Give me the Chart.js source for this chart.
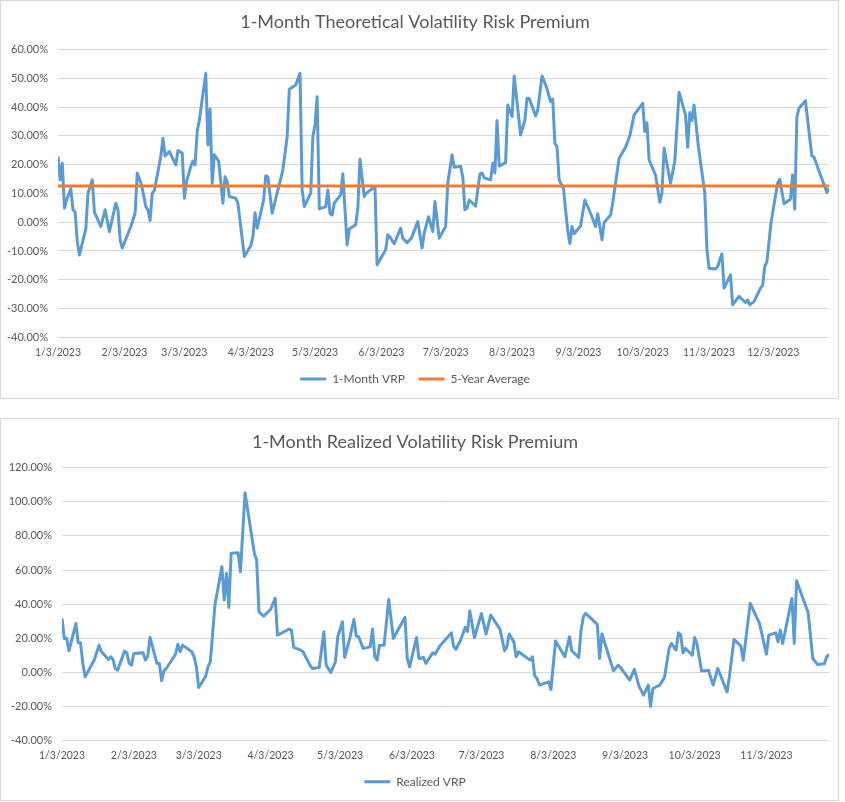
<!DOCTYPE html>
<html>
<head>
<meta charset="utf-8">
<script src="https://cdn.jsdelivr.net/npm/chart.js@4.4.1/dist/chart.umd.min.js"></script>
<style>
body { margin: 0; background: #fff; }
.box { position: absolute; left: 0; width: 839px; border: 1px solid #d9d9d9; box-sizing: border-box; background: #fff; }
#topBox { top: 0; height: 399px; }
#bottomBox { top: 418px; height: 383px; }
</style>
</head>
<body>
<div class="box" id="topBox"><canvas id="vrpChart"></canvas></div>
<div class="box" id="bottomBox"><canvas id="realizedChart"></canvas></div>
<script>
// x values are day of year 2023 (1/3/2023 = 3), y values in %
var vrpDay = [3,4,5,6,7,9,10,11,12,13,16,17,19,20,23,25,27,30,31,32,33,37,39,40,42,44,45,46,47,48,
  51,52,53,55,58,59,61,62,63,65,66,67,68,69,72,73,74,75,76,78,80,81,82,83,86,87,90,93,94,95,96,99,100,101,103,
  108,110,111,114,116,117,118,121,122,123,124,125,128,129,130,131,132,135,136,138,139,142,143,144,146,147,
  151,152,156,157,158,160,163,164,166,168,171,173,174,176,178,179,181,184,185,187,188,191,192,193,194,195,198,
  200,201,202,205,206,207,208,209,212,213,215,216,219,221,222,223,226,227,229,231,233,234,235,236,237,239,
  241,242,243,244,247,249,252,254,255,257,258,261,262,265,268,270,272,276,277,278,279,282,284,285,286,289,
  291,293,296,297,298,299,300,302,305,306,307,310,311,313,314,317,318,321,324,325,326,328,331,332,333,334,
  336,339,340,342,345,346,347,348,349,352,355,356,362,363];
var vrpValue = [22.8,14.7,20.5,4.9,7.7,11.6,4.3,3.5,-6.7,-11.4,-2.3,10.1,14.7,3.5,-1.5,4.3,-3.3,6.6,4.3,-6.1,-9.0,-1.5,3.1,17.0,13.0,5.4,4.3,0.6,10.1,11.0,
  22.8,29.2,23.0,24.5,19.9,24.9,24.0,8.3,14.1,19.3,21.2,19.9,31.5,35.5,51.7,26.8,39.2,13.5,23.4,21.2,6.6,15.8,14.0,8.9,8.3,6.6,-11.9,-8.2,-5.0,3.3,-2.1,7.7,16.1,15.8,3.1,
  18.2,29.7,46.2,47.7,51.7,11.2,5.4,10.1,29.7,33.8,43.6,4.6,5.4,11.2,3.1,2.5,6.6,9.5,16.8,-7.9,-2.4,-0.9,4.9,21.9,8.9,10.1,
  12.4,-14.8,-9.6,-4.4,-5.2,-7.5,-2.1,-5.6,-7.1,-5.6,0.2,-9.0,-3.8,1.9,-3.3,7.2,-5.6,-1.5,13.5,23.4,19.1,19.4,15.8,4.3,4.9,7.7,5.6,
  16.8,17.1,15.4,14.7,20.5,17.1,35.3,19.5,20.7,40.7,36.7,50.8,30.3,35.5,43.1,43.1,36.9,39.0,50.8,47.1,41.9,42.8,27.4,26.2,14.7,11.8,
  -3.0,-7.4,-1.5,-4.0,-1.3,7.7,2.5,-1.5,2.9,-6.1,-0.1,2.5,6.6,22.2,26.0,30.0,37.3,41.3,31.5,34.5,21.6,16.4,6.9,10.1,25.7,13.5,
  21.2,45.1,37.3,26.0,38.1,35.3,40.7,26.3,10.1,-9.6,-16.0,-16.3,-15.5,-11.0,-22.9,-18.3,-28.7,-25.8,-27.9,-27.0,-28.7,-27.6,-22.9,-22.1,-15.4,-13.7,
  0.2,13.5,14.9,6.4,8.0,16.4,4.5,36.5,39.6,42.2,23.0,22.6,10.3,11.8];
var fiveYearAverage = 12.6;

var realizedDay = [3,4,5,6,9,10,11,12,13,17,19,20,22,23,24,25,26,27,30,31,32,33,34,38,39,40,41,43,44,45,46,47,48,
  52,53,54,55,59,60,61,62,65,66,67,69,72,73,74,75,76,79,80,82,86,87,88,90,93,95,96,101,102,103,106,107,110,111,114,116,117,119,
  121,122,124,125,127,129,130,131,133,136,137,138,139,140,142,144,146,151,152,153,156,157,159,160,163,164,166,171,172,173,175,177,178,179,
  181,184,186,188,192,194,195,196,198,199,200,203,205,206,207,208,209,213,214,215,216,220,222,223,226,227,228,229,234,235,236,
  241,243,244,248,250,252,254,256,257,258,261,263,265,266,268,269,270,271,272,275,276,277,279,282,284,286,290,291,293,296,297,
  300,304,307,308,311,312,313,314,318,319,320,322,325,327,329,332,333,334];
var realizedValue = [31.7,19.9,19.9,12.7,28.7,17.4,17.4,5.3,-2.6,7.6,16.0,12.1,9.2,7.6,9.2,7.6,2.3,1.3,12.5,11.5,5.3,4.3,11.1,11.5,7.2,9.6,20.5,10.1,5.3,5.3,-4.9,0.9,2.3,
  10.7,16.4,12.1,16.0,12.1,9.2,3.3,-8.8,-2.2,3.3,6.2,39.5,61.9,42.4,58.1,38.1,69.8,70.1,59.0,105.3,69.8,65.9,35.5,33.0,36.9,43.4,21.9,25.4,24.8,14.7,13.1,12.1,4.3,2.3,2.9,23.8,4.3,0.0,
  6.2,20.9,29.7,8.8,18.9,31.1,21.3,20.9,14.1,15.0,25.4,9.2,7.2,16.0,16.0,42.8,19.9,32.3,8.2,3.3,20.5,8.2,8.8,5.3,11.5,10.7,15.4,23.2,15.4,13.5,18.9,26.4,24.0,36.0,
  20.5,34.6,22.5,33.6,25.4,12.7,15.0,22.5,17.9,9.2,12.1,9.2,7.2,9.2,-2.0,-3.5,-7.4,-5.5,-10.0,4.3,18.5,9.2,20.9,12.7,8.8,24.8,32.6,34.6,28.2,8.2,22.5,
  0.9,4.3,2.9,-4.5,1.8,-8.0,-13.3,-7.4,-19.8,-9.4,-7.4,-2.9,14.1,17.0,13.1,23.2,22.0,11.5,14.1,10.1,20.5,17.0,0.9,1.3,-7.4,2.3,-11.4,-2.6,19.4,15.4,7.2,
  40.5,28.7,10.7,21.9,23.2,17.9,24.8,17.0,43.4,17.0,53.7,46.3,35.0,8.2,4.7,5.1,9.2,10.6];

var tickDay = [3,34,62,93,123,154,184,215,246,276,307,337];
var tickLabel = ['1/3/2023','2/3/2023','3/3/2023','4/3/2023','5/3/2023','6/3/2023','7/3/2023','8/3/2023','9/3/2023','10/3/2023','11/3/2023','12/3/2023'];

Chart.defaults.font.family = 'Lato';
Chart.defaults.color = '#595959';
Chart.defaults.animation = false;

function points(days, values) {
  return days.map(function (d, i) { return { x: d, y: values[i] }; });
}

function xAxis(max, count) {
  return {
    type: 'linear', min: 3, max: max,
    grid: { display: false, drawTicks: false },
    border: { display: false },
    afterBuildTicks: function (axis) {
      axis.ticks = tickDay.slice(0, count).map(function (d) { return { value: d }; });
    },
    ticks: {
      autoSkip: false, maxRotation: 0, padding: 9, font: { size: 10.5 },
      callback: function (v, i) { return tickLabel[i]; }
    },
    afterFit: function (s) { s.height = 22; }
  };
}

function yAxis(min, max, step, width) {
  return {
    min: min, max: max,
    grid: { color: '#d9d9d9', drawTicks: false },
    border: { display: false },
    ticks: {
      stepSize: step, padding: 10, font: { size: 11 },
      callback: function (v) { return v.toFixed(2) + '%'; }
    },
    afterFit: function (s) { s.width = width; }
  };
}

function legendOpts(pad, reverse) {
  return {
    position: 'bottom', reverse: reverse,
    labels: { usePointStyle: true, pointStyle: 'line', pointStyleWidth: 26, padding: pad, font: { size: 12 }, color: '#595959' }
  };
}

new Chart(document.getElementById('vrpChart'), {
  type: 'line',
  data: {
    datasets: [{
      label: '5-Year Average',
      data: points(vrpDay, vrpDay.map(function () { return fiveYearAverage; })),
      borderColor: '#ED7D31', backgroundColor: '#ED7D31',
      borderWidth: 3, pointRadius: 0
    }, {
      label: '1-Month VRP',
      data: points(vrpDay, vrpValue),
      borderColor: '#5B9BD5', backgroundColor: '#5B9BD5',
      borderWidth: 3, pointRadius: 0, borderJoinStyle: 'round'
    }]
  },
  options: {
    responsive: true, maintainAspectRatio: false,
    layout: { padding: { left: 0, right: 9, top: 0, bottom: 3 } },
    scales: { x: xAxis(363, 12), y: yAxis(-40, 60, 10, 57) },
    plugins: {
      title: { display: true, text: '1-Month Theoretical Volatility Risk Premium', color: '#595959', font: { size: 18, weight: 'normal' }, padding: { top: 10.8, bottom: 16.1 } },
      legend: legendOpts(13.7, true),
      tooltip: { enabled: false }
    }
  }
});

new Chart(document.getElementById('realizedChart'), {
  type: 'line',
  data: {
    datasets: [{
      label: 'Realized VRP',
      data: points(realizedDay, realizedValue),
      borderColor: '#5B9BD5', backgroundColor: '#5B9BD5',
      borderWidth: 3, pointRadius: 0, borderJoinStyle: 'round'
    }]
  },
  options: {
    responsive: true, maintainAspectRatio: false,
    layout: { padding: { left: 0, right: 9, top: 0, bottom: 2.3 } },
    scales: { x: xAxis(334, 11), y: yAxis(-40, 120, 20, 61) },
    plugins: {
      title: { display: true, text: '1-Month Realized Volatility Risk Premium', color: '#595959', font: { size: 18, weight: 'normal' }, padding: { top: 11.9, bottom: 15.2 } },
      legend: legendOpts(13, false),
      tooltip: { enabled: false }
    }
  }
});
</script>
</body>
</html>
